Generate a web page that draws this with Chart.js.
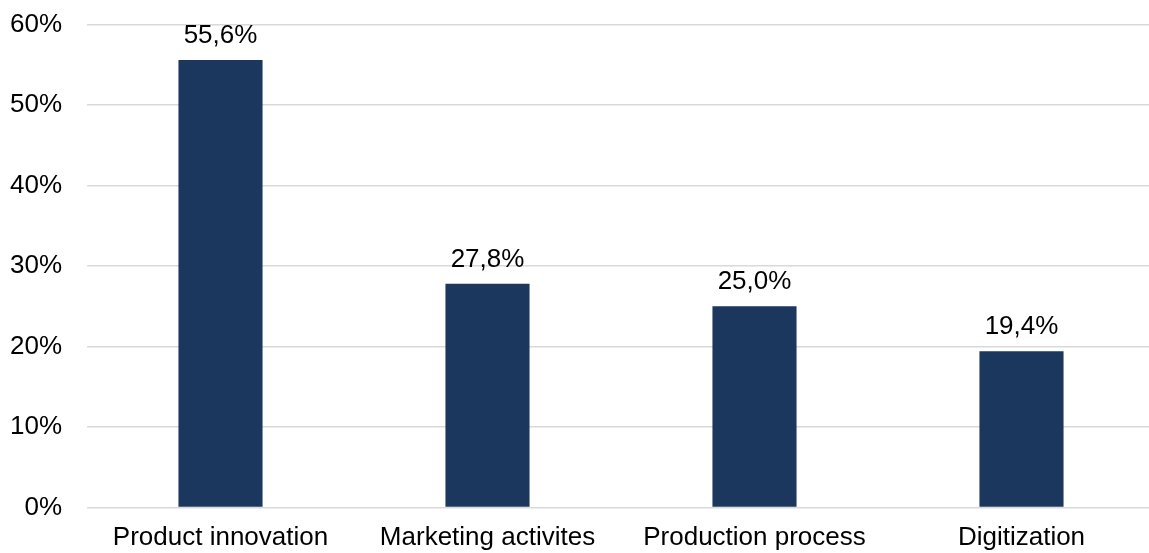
<!DOCTYPE html>
<html>
<head>
<meta charset="utf-8">
<script src="https://cdn.jsdelivr.net/npm/chart.js@4.4.0/dist/chart.umd.min.js"></script>
<style>
html,body{margin:0;padding:0;background:#fff;overflow:hidden;}
#wrap{position:absolute;left:0;top:0;width:1155px;height:553px;}
</style>
</head>
<body>
<div id="wrap"><canvas id="c" width="1155" height="553"></canvas></div>
<script>
const categories = ["Product innovation", "Marketing activites", "Production process", "Digitization"];
const values = [55.6, 27.8, 25.0, 19.4];
const tickValues = [0, 10, 20, 30, 40, 50, 60];

const fontFamily = "'Liberation Sans', Arial, sans-serif";
const fontSize = 26;

const dataLabels = {
  id: 'dataLabels',
  afterDatasetsDraw(chart) {
    const ctx = chart.ctx;
    const meta = chart.getDatasetMeta(0);
    ctx.save();
    ctx.font = fontSize + "px " + fontFamily;
    ctx.fillStyle = "#000";
    ctx.textAlign = "center";
    ctx.textBaseline = "alphabetic";
    meta.data.forEach((bar, i) => {
      const label = values[i].toFixed(1).replace('.', ',') + '%';
      ctx.fillText(label, bar.x, bar.y - 17);
    });
    ctx.restore();
  }
};

new Chart(document.getElementById('c'), {
  type: 'bar',
  data: {
    labels: categories,
    datasets: [{
      data: values,
      backgroundColor: '#1b375e',
      borderWidth: 0,
      barPercentage: 0.315,
      categoryPercentage: 1.0
    }]
  },
  options: {
    responsive: false,
    animation: false,
    devicePixelRatio: 1,
    layout: { padding: { top: 24.5, left: 0, right: 0, bottom: 0 } },
    plugins: { legend: { display: false }, tooltip: { enabled: false } },
    scales: {
      x: {
        afterFit(scale) { scale.height = 45.5; },
        grid: { display: false, drawTicks: false },
        border: { display: false },
        ticks: { color: '#000', font: { family: fontFamily, size: fontSize }, padding: 15, maxRotation: 0, autoSkip: false }
      },
      y: {
        min: 0, max: 60,
        afterFit(scale) { scale.width = 87; scale.paddingTop = 0; scale.paddingBottom = 0; },
        afterBuildTicks(scale) { scale.ticks = tickValues.map(v => ({ value: v })); },
        grid: { color: '#d9d9d9', lineWidth: 1.5, drawTicks: false },
        border: { display: false },
        ticks: { color: '#000', font: { family: fontFamily, size: fontSize }, padding: 25, callback: v => v + '%' }
      }
    }
  },
  plugins: [dataLabels]
});
</script>
</body>
</html>
